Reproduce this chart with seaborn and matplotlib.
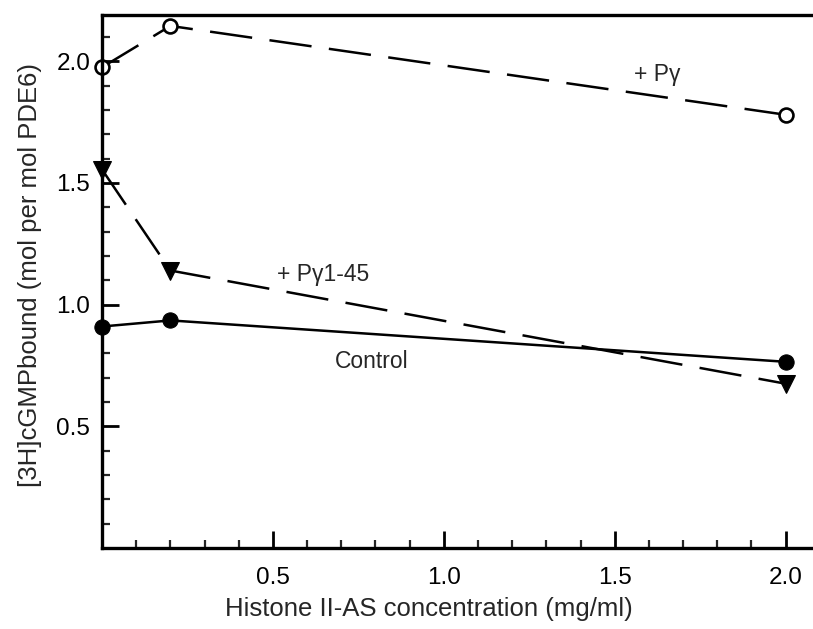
import matplotlib
matplotlib.use("Agg")
import matplotlib.pyplot as plt
import seaborn as sns

# Histone II-AS concentration (mg/ml)
histone = [0.0, 0.2, 2.0]
# [3H]cGMP bound (mol per mol PDE6)
control = [0.91, 0.935, 0.765]
plus_pgamma = [1.975, 2.145, 1.78]
plus_pgamma_1_45 = [1.555, 1.14, 0.675]

sns.set_theme(style="ticks")
plt.rcParams["font.family"] = ["Liberation Sans", "DejaVu Sans"]

fig = plt.figure(figsize=(8.13, 6.29), dpi=100)
ax = fig.add_axes([0.1255, 0.1288, 0.8745, 0.8474])

dash = (0, (17, 7))

sns.lineplot(x=histone, y=plus_pgamma, ax=ax, color="black", lw=1.8,
             linestyle=dash, marker="o", markersize=10,
             markerfacecolor="white", markeredgecolor="black",
             markeredgewidth=1.9, clip_on=False)
sns.lineplot(x=histone, y=plus_pgamma_1_45, ax=ax, color="black", lw=1.8,
             linestyle=dash, marker="v", markersize=12.5,
             markerfacecolor="black", markeredgecolor="black", clip_on=False)
sns.lineplot(x=histone, y=control, ax=ax, color="black", lw=1.8,
             linestyle="-", marker="o", markersize=11,
             markerfacecolor="black", markeredgecolor="black", clip_on=False)

ax.text(1.624, 1.918, "+ P\u03b3", fontsize=16.5, ha="center", va="baseline")
ax.text(0.646, 1.099, "+ P\u03b31-45", fontsize=16.5, ha="center", va="baseline")
ax.text(0.788, 0.741, "Control", fontsize=16.5, ha="center", va="baseline")

ax.set_xlim(0, 2.08)
ax.set_ylim(0, 2.19)
ax.set_xticks([0.5, 1.0, 1.5, 2.0])
ax.set_xticklabels(["0.5", "1.0", "1.5", "2.0"])
ax.set_xticks([x / 10 for x in range(1, 21)], minor=True)
ax.set_yticks([0.5, 1.0, 1.5, 2.0])
ax.set_yticklabels(["0.5", "1.0", "1.5", "2.0"])
ax.set_yticks([y / 10 for y in range(1, 22)], minor=True)

ax.tick_params(which="major", direction="in", length=12, width=2,
               labelsize=17.5, colors="black")
ax.tick_params(which="minor", direction="in", length=6, width=1.6)
ax.tick_params(axis="x", which="major", pad=14)
ax.tick_params(axis="y", which="major", pad=8.5)

for side in ["left", "bottom", "top"]:
    ax.spines[side].set_linewidth(2.4)
    ax.spines[side].set_color("black")
ax.spines["right"].set_visible(False)

ax.set_xlabel("Histone II-AS concentration (mg/ml)", fontsize=18.5)
ax.set_ylabel("[3H]cGMPbound (mol per mol PDE6)", fontsize=18.5)
ax.xaxis.set_label_coords(0.46, -0.092)
ax.yaxis.set_label_coords(-0.084, 0.512)

fig.savefig("out.png", dpi=100)
